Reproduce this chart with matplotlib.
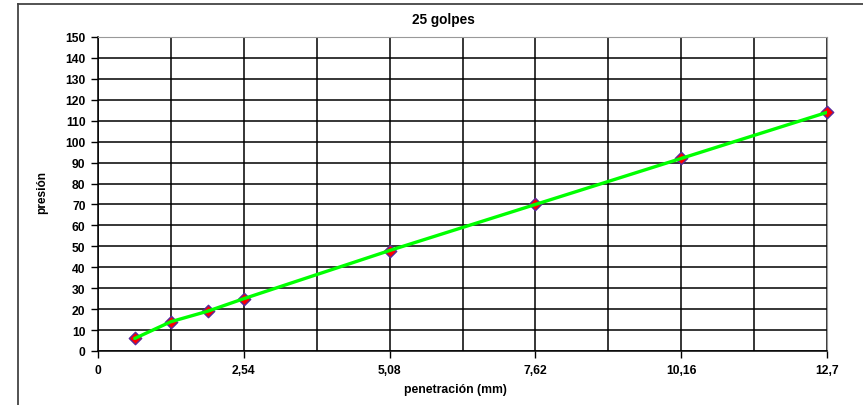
"""25 golpes: presión vs penetración."""

import matplotlib

matplotlib.use("Agg")
import matplotlib.pyplot as plt
from matplotlib.lines import Line2D
from matplotlib.ticker import MultipleLocator

penetracion = [0.64, 1.27, 1.91, 2.54, 5.08, 7.62, 10.16, 12.7]
presion = [6, 14, 19, 25, 48, 70, 92, 114]
x_ticks = [0, 2.54, 5.08, 7.62, 10.16, 12.7]
x_tick_labels = ["0", "2,54", "5,08", "7,62", "10,16", "12,7"]

plt.rcParams["font.family"] = ["Liberation Sans", "DejaVu Sans"]
plt.rcParams["font.weight"] = "bold"

W, H = 863, 406
fig = plt.figure(figsize=(W / 100, H / 100), dpi=100)
ax = fig.add_axes([98 / W, 1 - 352 / H, (827 - 98) / W, (352 - 38) / H])

# outer chart frame (only top and left edges fall inside the picture)
fig.lines.append(Line2D([18 / W, 1.0], [1 - 4.5 / H, 1 - 4.5 / H], transform=fig.transFigure,
                        color="#444444", linewidth=1.3))
fig.lines.append(Line2D([18 / W, 18 / W], [1 - 4.5 / H, 0.0], transform=fig.transFigure,
                        color="#444444", linewidth=1.3))

ax.scatter(penetracion, presion, marker="D", s=40, facecolor="#ff0000",
           edgecolor="#5a2a9a", linewidths=1.0, zorder=3, clip_on=False)
ax.plot(penetracion, presion, color="#00ff00", linewidth=2.4, zorder=4,
        solid_capstyle="round")

ax.set_xlim(0, 12.7)
ax.set_ylim(0, 150)
ax.set_xticks(x_ticks)
ax.set_xticklabels(x_tick_labels)
ax.xaxis.set_minor_locator(MultipleLocator(1.27))
ax.yaxis.set_major_locator(MultipleLocator(10))

ax.grid(True, which="major", color="black", linewidth=1.1)
ax.grid(True, which="minor", axis="x", color="black", linewidth=1.1)
ax.set_axisbelow(True)
ax.tick_params(which="major", length=5, width=1.0, labelsize=8.7, pad=4)
ax.tick_params(which="minor", length=0)

for side in ["top", "right"]:
    ax.spines[side].set_color("#999999")
for side in ["left", "bottom"]:
    ax.spines[side].set_color("black")
    ax.spines[side].set_linewidth(1.1)

fig.text(443 / W, 1 - 20 / H, "25 golpes", fontsize=9.8, fontweight="bold",
         ha="center", va="center")
fig.text(455 / W, 1 - 390 / H, "penetración (mm)", fontsize=8.8, fontweight="bold",
         ha="center", va="center")
fig.text(42 / W, 1 - 193 / H, "presión", fontsize=8.6, fontweight="bold",
         ha="center", va="center", rotation=90)

fig.savefig("out.png", dpi=100)
